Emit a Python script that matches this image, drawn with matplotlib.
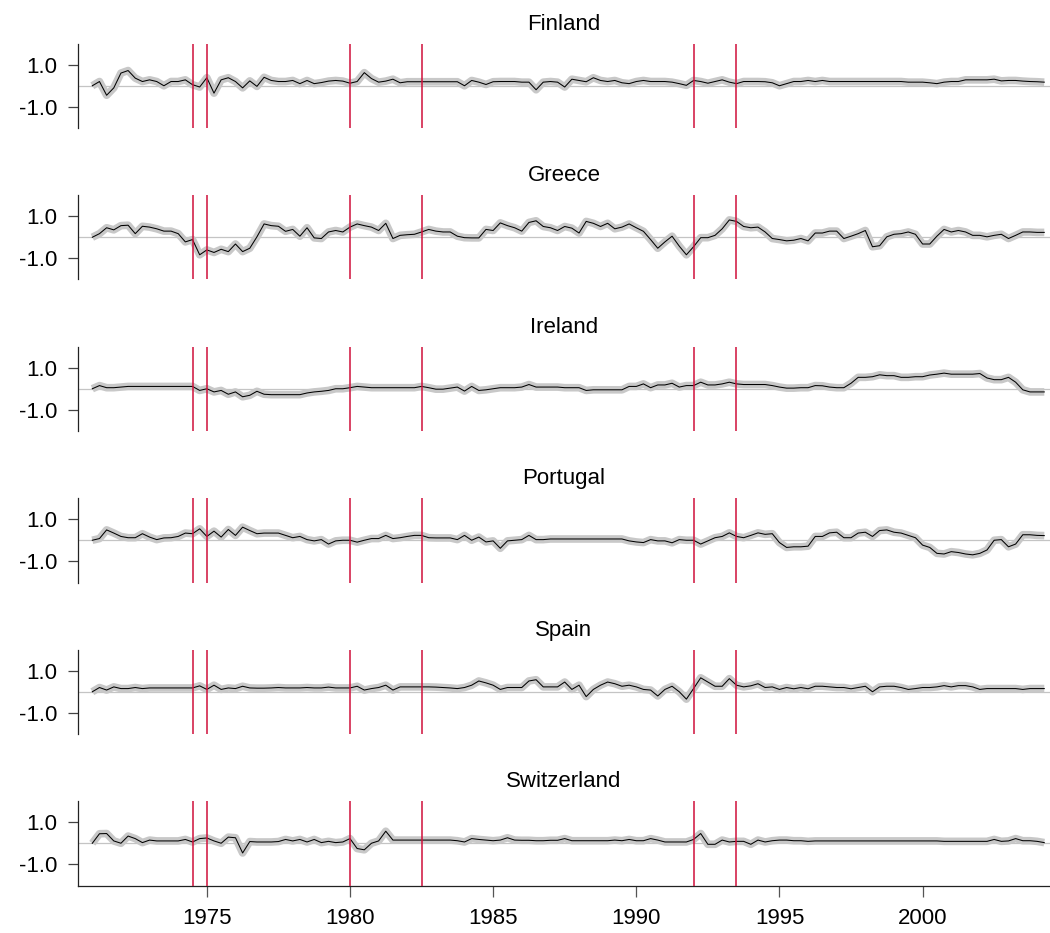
import matplotlib
matplotlib.use("Agg")
import matplotlib.pyplot as plt
import pandas as pd

plt.rcParams['font.family'] = ['Liberation Sans', 'DejaVu Sans']

# Quarterly dates 1971Q1 .. 2004Q2
periods = pd.period_range("1971Q1", "2004Q2", freq="Q")
dates = [p.year + (p.quarter - 1) / 4 for p in periods]

countries = ["Finland", "Greece", "Ireland", "Portugal", "Spain", "Switzerland"]

finland = [0.00, 0.20, -0.45, -0.10, 0.60, 0.72, 0.36, 0.20, 0.28, 0.20,
           0.00, 0.20, 0.20, 0.28, 0.05, -0.06, 0.38, -0.35, 0.28, 0.38,
           0.20, -0.10, 0.23, -0.03, 0.40, 0.25, 0.20, 0.20, 0.25, 0.10,
           0.25, 0.10, 0.15, 0.22, 0.25, 0.22, 0.12, 0.20, 0.62, 0.34,
           0.17, 0.22, 0.31, 0.14, 0.19, 0.19, 0.19, 0.19, 0.19, 0.19,
           0.19, 0.19, 0.00, 0.25, 0.17, 0.06, 0.19, 0.20, 0.20, 0.20,
           0.17, 0.17, -0.19, 0.17, 0.20, 0.17, -0.06, 0.31, 0.25, 0.19,
           0.38, 0.25, 0.20, 0.25, 0.14, 0.10, 0.20, 0.25, 0.20, 0.20,
           0.20, 0.17, 0.10, 0.02, 0.25, 0.20, 0.12, 0.20, 0.28, 0.17,
           0.10, 0.20, 0.20, 0.20, 0.19, 0.14, 0.00, 0.10, 0.20, 0.20,
           0.25, 0.20, 0.25, 0.20, 0.20, 0.20, 0.20, 0.20, 0.20, 0.20,
           0.20, 0.20, 0.20, 0.20, 0.17, 0.17, 0.17, 0.14, 0.10, 0.17,
           0.20, 0.20, 0.28, 0.28, 0.28, 0.28, 0.31, 0.23, 0.25, 0.25,
           0.22, 0.20, 0.19, 0.17]

greece = [0.00, 0.17, 0.45, 0.35, 0.55, 0.57, 0.17, 0.52, 0.48, 0.40,
          0.29, 0.29, 0.17, -0.22, -0.11, -0.83, -0.60, -0.72, -0.57, -0.68,
          -0.32, -0.68, -0.52, 0.02, 0.63, 0.55, 0.52, 0.28, 0.37, 0.05,
          0.45, -0.03, -0.06, 0.25, 0.32, 0.25, 0.48, 0.63, 0.55, 0.48,
          0.32, 0.66, -0.06, 0.09, 0.12, 0.14, 0.25, 0.37, 0.29, 0.25,
          0.25, 0.05, -0.02, -0.03, -0.03, 0.37, 0.32, 0.68, 0.55, 0.45,
          0.29, 0.70, 0.78, 0.51, 0.45, 0.32, 0.51, 0.43, 0.20, 0.75,
          0.66, 0.51, 0.66, 0.40, 0.48, 0.63, 0.45, 0.28, -0.11, -0.52,
          -0.22, 0.05, -0.42, -0.83, -0.45, -0.02, -0.02, 0.09, 0.40, 0.82,
          0.75, 0.51, 0.45, 0.48, 0.25, -0.06, -0.11, -0.17, -0.14, -0.06,
          -0.17, 0.20, 0.20, 0.29, 0.29, -0.06, 0.05, 0.17, 0.32, -0.45,
          -0.40, 0.02, 0.14, 0.17, 0.25, 0.14, -0.32, -0.32, 0.05, 0.37,
          0.25, 0.32, 0.25, 0.09, 0.09, 0.02, 0.09, 0.14, -0.06, 0.09,
          0.25, 0.25, 0.23, 0.23]

ireland = [0.00, 0.15, 0.05, 0.05, 0.08, 0.11, 0.11, 0.11, 0.11, 0.11,
           0.11, 0.11, 0.11, 0.11, 0.11, -0.08, 0.00, -0.15, -0.08, -0.26,
           -0.15, -0.38, -0.31, -0.12, -0.26, -0.28, -0.28, -0.28, -0.28, -0.28,
           -0.20, -0.15, -0.12, -0.08, 0.00, 0.00, 0.05, 0.11, 0.08, 0.05,
           0.05, 0.05, 0.05, 0.05, 0.05, 0.05, 0.11, 0.05, -0.02, -0.02,
           0.03, 0.08, -0.11, 0.11, -0.08, -0.05, 0.00, 0.05, 0.05, 0.05,
           0.08, 0.20, 0.08, 0.08, 0.08, 0.08, 0.05, 0.05, 0.05, -0.08,
           -0.05, -0.05, -0.05, -0.05, -0.05, 0.11, 0.11, 0.23, 0.05, 0.18,
           0.18, 0.26, 0.08, 0.15, 0.15, 0.31, 0.18, 0.18, 0.23, 0.31,
           0.23, 0.20, 0.20, 0.20, 0.20, 0.15, 0.08, 0.03, 0.03, 0.05,
           0.05, 0.15, 0.14, 0.08, 0.05, 0.05, 0.26, 0.54, 0.54, 0.57,
           0.66, 0.62, 0.62, 0.54, 0.54, 0.57, 0.57, 0.65, 0.69, 0.74,
           0.69, 0.69, 0.69, 0.69, 0.72, 0.51, 0.43, 0.43, 0.54, 0.31,
           -0.05, -0.15, -0.15, -0.15]

portugal = [0.00, 0.08, 0.49, 0.34, 0.18, 0.12, 0.12, 0.31, 0.15, 0.03,
            0.11, 0.12, 0.18, 0.34, 0.31, 0.54, 0.18, 0.43, 0.15, 0.51,
            0.23, 0.62, 0.46, 0.31, 0.34, 0.34, 0.34, 0.23, 0.12, 0.18,
            0.03, -0.03, 0.03, -0.18, -0.03, 0.00, 0.00, -0.09, 0.00, 0.08,
            0.08, 0.23, 0.08, 0.12, 0.18, 0.23, 0.23, 0.12, 0.11, 0.11,
            0.11, 0.03, 0.23, 0.00, 0.15, -0.08, -0.03, -0.38, -0.03, 0.00,
            0.03, 0.23, 0.03, 0.03, 0.06, 0.06, 0.06, 0.06, 0.06, 0.06,
            0.06, 0.06, 0.06, 0.06, 0.06, -0.03, -0.08, -0.11, 0.03, -0.03,
            -0.03, -0.12, 0.03, 0.00, 0.00, -0.18, -0.03, 0.12, 0.18, 0.35,
            0.18, 0.12, 0.23, 0.35, 0.28, 0.31, -0.11, -0.34, -0.31, -0.31,
            -0.28, 0.18, 0.18, 0.35, 0.38, 0.12, 0.12, 0.34, 0.38, 0.18,
            0.46, 0.49, 0.38, 0.34, 0.23, 0.12, -0.23, -0.34, -0.62, -0.65,
            -0.54, -0.58, -0.65, -0.69, -0.62, -0.46, 0.00, 0.03, -0.31, -0.18,
            0.26, 0.26, 0.23, 0.22]

spain = [0.00, 0.20, 0.08, 0.23, 0.15, 0.15, 0.20, 0.15, 0.18, 0.18,
         0.18, 0.18, 0.18, 0.18, 0.18, 0.28, 0.11, 0.31, 0.11, 0.18,
         0.15, 0.26, 0.18, 0.17, 0.17, 0.18, 0.20, 0.18, 0.18, 0.18,
         0.20, 0.18, 0.18, 0.22, 0.18, 0.18, 0.18, 0.26, 0.08, 0.15,
         0.20, 0.31, 0.08, 0.23, 0.23, 0.23, 0.23, 0.23, 0.22, 0.20,
         0.18, 0.15, 0.20, 0.31, 0.51, 0.42, 0.31, 0.11, 0.20, 0.20,
         0.20, 0.51, 0.57, 0.23, 0.23, 0.23, 0.46, 0.11, 0.31, -0.23,
         0.11, 0.31, 0.46, 0.38, 0.26, 0.31, 0.23, 0.11, 0.08, -0.20,
         0.11, 0.26, 0.00, -0.35, 0.15, 0.66, 0.46, 0.26, 0.26, 0.62,
         0.31, 0.23, 0.28, 0.38, 0.20, 0.23, 0.11, 0.20, 0.14, 0.20,
         0.14, 0.26, 0.26, 0.23, 0.20, 0.20, 0.14, 0.20, 0.26, 0.00,
         0.23, 0.26, 0.26, 0.20, 0.11, 0.15, 0.20, 0.20, 0.23, 0.29,
         0.23, 0.29, 0.29, 0.23, 0.11, 0.15, 0.15, 0.15, 0.15, 0.15,
         0.11, 0.15, 0.15, 0.15]

switzerland = [0.00, 0.45, 0.46, 0.11, 0.00, 0.34, 0.22, 0.03, 0.15, 0.11,
               0.11, 0.11, 0.11, 0.18, 0.06, 0.22, 0.25, 0.11, 0.00, 0.29,
               0.26, -0.46, 0.08, 0.06, 0.06, 0.06, 0.08, 0.18, 0.11, 0.18,
               0.06, 0.18, 0.03, 0.09, 0.03, 0.06, 0.22, -0.25, -0.31, 0.00,
               0.11, 0.57, 0.15, 0.15, 0.15, 0.15, 0.15, 0.15, 0.15, 0.15,
               0.15, 0.12, 0.06, 0.22, 0.18, 0.15, 0.12, 0.15, 0.26, 0.15,
               0.14, 0.14, 0.12, 0.12, 0.14, 0.14, 0.22, 0.12, 0.12, 0.12,
               0.12, 0.12, 0.12, 0.15, 0.12, 0.18, 0.12, 0.12, 0.22, 0.15,
               0.06, 0.06, 0.06, 0.06, 0.18, 0.46, -0.05, -0.05, 0.15, 0.06,
               0.09, 0.09, -0.05, 0.15, 0.06, 0.12, 0.15, 0.15, 0.12, 0.12,
               0.09, 0.11, 0.11, 0.11, 0.11, 0.11, 0.11, 0.11, 0.11, 0.11,
               0.11, 0.11, 0.11, 0.11, 0.11, 0.11, 0.11, 0.11, 0.11, 0.09,
               0.09, 0.09, 0.09, 0.09, 0.09, 0.09, 0.18, 0.09, 0.11, 0.22,
               0.12, 0.12, 0.09, 0.03]

series = [finland, greece, ireland, portugal, spain, switzerland]

event_dates = [1974.5, 1975.0, 1980.0, 1982.5, 1992.0, 1993.5]
x_ticks = [1975, 1980, 1985, 1990, 1995, 2000]
y_ticks = [-1.0, 1.0]
y_ticklabels = ["-1.0", "1.0"]

W, H = 1050, 933
fig = plt.figure(figsize=(W / 100, H / 100), dpi=100)

left_px = 78
top0 = 43.5
step = 151.5
h_px = 84.5

for i, (name, vals) in enumerate(zip(countries, series)):
    top = top0 + step * i
    ax = fig.add_axes([left_px / W, 1 - (top + h_px) / H, 1 - left_px / W, h_px / H])
    ax.set_xlim(1970.5, 2004.45)
    ax.set_ylim(-2, 2)
    ax.axhline(0, color="#c4c4c4", lw=0.9, zorder=1)
    ax.plot(dates, vals, color="#c8c8c8", lw=5.5, solid_joinstyle="round",
            solid_capstyle="butt", zorder=2)
    ax.plot(dates, vals, color="black", lw=0.75, zorder=3)
    for d in event_dates:
        ax.axvline(d, color="#d0103a", lw=1.1, zorder=4)
    ax.set_title(name, fontsize=16, pad=10)
    ax.spines["top"].set_visible(False)
    ax.spines["right"].set_visible(False)
    ax.spines["left"].set_color("#222222")
    ax.spines["left"].set_linewidth(0.9)
    ax.set_yticks(y_ticks)
    ax.set_yticklabels(y_ticklabels)
    ax.tick_params(axis="y", length=7, width=0.9, color="#444444", pad=8,
                   labelsize=16)
    if i < len(countries) - 1:
        ax.spines["bottom"].set_visible(False)
        ax.set_xticks([])
    else:
        ax.spines["bottom"].set_color("#222222")
        ax.spines["bottom"].set_linewidth(0.9)
        ax.set_xticks(x_ticks)
        ax.set_xticklabels([str(t) for t in x_ticks])
        ax.tick_params(axis="x", length=8, width=0.9, color="#555555", pad=8,
                       labelsize=16)

fig.savefig("out.png", dpi=100)
